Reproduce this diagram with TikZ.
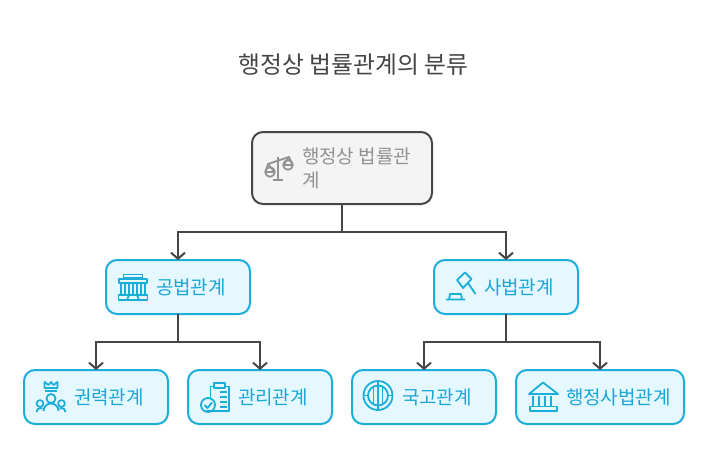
\documentclass[tikz,border=0pt]{standalone}
\usepackage{fontspec}
\setmainfont{Noto Sans CJK KR}
\usetikzlibrary{arrows.meta}
\definecolor{lawBlue}{RGB}{28,174,219}
\definecolor{lawText}{RGB}{26,166,214}
\definecolor{lawLight}{RGB}{230,248,255}
\definecolor{lawGray}{RGB}{70,70,70}
\definecolor{lawPale}{RGB}{244,244,244}
\definecolor{lawMute}{RGB}{145,145,145}
\tikzset{
    base/.style={inner sep=0pt, outer sep=0pt},
    rootbox/.style={base, rectangle, rounded corners=11pt, draw=lawGray, line width=2pt,
                    fill=lawPale, minimum width=180pt, minimum height=72pt},
    subbox/.style={base, rectangle, rounded corners=11pt, draw=lawBlue, line width=2pt,
                   fill=lawLight, minimum height=54pt},
    subtext/.style={base, anchor=west, text=lawText, font=\fontsize{19}{24}\selectfont},
    roottext/.style={base, anchor=west, text=lawMute, font=\fontsize{19}{24}\selectfont,
                     align=left},
    flow/.style={-{Straight Barb[length=6pt,width=14pt,line width=2pt]}, line width=2pt, color=lawGray},
    icon/.style={draw=lawBlue, line width=1.8pt, line join=round},
    grayicon/.style={draw=lawMute, line width=1.8pt, line join=round}
}
\begin{document}
\begin{tikzpicture}[x=1pt,y=-1pt]
  \useasboundingbox (0,0) rectangle (708,472);

  \node[base, text=lawGray, font=\fontsize{23.8}{30}\selectfont] (title) at (353.5,65) {행정상 법률관계의 분류};

  % Boxes
  \node[rootbox] (root) at (342,168) {};
  \node[subbox, minimum width=144pt] (public) at (178,287) {};
  \node[subbox, minimum width=144pt] (private) at (506,287) {};
  \node[subbox, minimum width=144pt] (power) at (96,397) {};
  \node[subbox, minimum width=144pt] (manage) at (260,397) {};
  \node[subbox, minimum width=144pt] (treasury) at (424,397) {};
  \node[subbox, minimum width=168pt] (adminpriv) at (600,397) {};

  % Labels
  \node[roottext] (roottxt) at (302,168) {행정상 법률관\\계};
  \node[subtext] (publictxt) at (156,287) {공법관계};
  \node[subtext] (privatetxt) at (484,287) {사법관계};
  \node[subtext] (powertxt) at (74,397) {권력관계};
  \node[subtext] (managetxt) at (238,397) {관리관계};
  \node[subtext] (treasurytxt) at (402,397) {국고관계};
  \node[subtext] (adminprivtxt) at (566,397) {행정사법관계};

  % Connectors
  \draw[flow] (root.south) -- ++(0,28) -| (public.north);
  \draw[flow] (root.south) -- ++(0,28) -| (private.north);
  \draw[flow] (public.south) -- ++(0,28) -| (power.north);
  \draw[flow] (public.south) -- ++(0,28) -| (manage.north);
  \draw[flow] (private.south) -- ++(0,28) -| (treasury.north);
  \draw[flow] (private.south) -- ++(0,28) -| (adminpriv.north);

  % Scales icon
  \draw[grayicon] (278,157) -- (278,180) (273,180) -- (283,180);
  \draw[grayicon] (268,164) -- (289,157);
  \draw[grayicon] (270,172) circle (4.8pt) (265.5,172) -- (274.5,172);
  \draw[grayicon] (288,165) circle (4.8pt) (283.5,165) -- (292.5,165);
  \draw[grayicon] (265.5,172) -- (268,164) -- (274.5,172) (283.5,165) -- (289,157) -- (292.5,165);

  % Government building icon
  \draw[icon] (123.5,274.5) rectangle (142.5,278);
  \draw[icon] (119,279) rectangle (147,283);
  \foreach \colx in {121,125,129,133,137,141,145}
    \draw[icon] (\colx,283) -- (\colx,295);
  \draw[icon] (118.5,295) rectangle (147.5,300);
  \draw[icon] (127,300) -- (129,295) -- (137,295) -- (139,300);

  % Gavel icon
  \draw[icon] (457,280) -- (465,272.5) -- (471.5,279) -- (463,288) -- cycle;
  \draw[icon] (468,283) -- (475.5,294);
  \draw[icon] (446,299.5) -- (465,299.5) (449,299.5) -- (450,294) -- (461,294) -- (462,299.5);

  % People with crown icon
  \draw[icon] (44.5,382) -- (44.5,388) -- (57.5,388) -- (57.5,382) -- (53.5,385) -- (51,382) -- (48.5,385) -- cycle;
  \draw[icon] (45,391) -- (57,391);
  \draw[icon] (51,398.5) circle (4.5pt);
  \draw[icon] (43.5,411) arc[start angle=180, end angle=0, radius=7.5pt];
  \draw[icon] (40,403.5) circle (3.4pt);
  \draw[icon] (61.5,403.5) circle (3.4pt);
  \draw[icon] (36.5,412) arc[start angle=180, end angle=60, radius=4pt];
  \draw[icon] (65.5,412) arc[start angle=0, end angle=120, radius=4pt];

  % Clipboard icon
  \draw[icon] (215,386.5) -- (210.5,386.5) -- (210.5,398) (206,411) -- (229,411) -- (229,386.5) -- (224,386.5);
  \draw[icon] (214,383) rectangle (225,388);
  \foreach \liney in {392,397,402,407}
    \draw[icon] (220,\liney) -- (227,\liney);
  \draw[icon] (208,405) circle (7pt);
  \draw[icon] (204.5,405) -- (207.5,408) -- (212,402.5);

  % Globe icon
  \draw[icon] (378,395.5) circle (14.5pt);
  \draw[icon] (378,395.5) circle (10pt);
  \draw[icon] (378,381) -- (378,410);
  \draw[icon] (373.5,386.5) -- (373.5,404.5) (382.5,386.5) -- (382.5,404.5);
  \draw[icon] (363.5,395.5) -- (368,395.5) (388,395.5) -- (392.5,395.5);

  % Courthouse icon
  \draw[icon] (543,382.5) -- (558,394) -- (529,394) -- cycle;
  \foreach \colx in {533,539,545,551}
    \draw[icon] (\colx,396) -- (\colx,406);
  \draw[icon] (530,406.5) rectangle (557,411);
\end{tikzpicture}
\end{document}
